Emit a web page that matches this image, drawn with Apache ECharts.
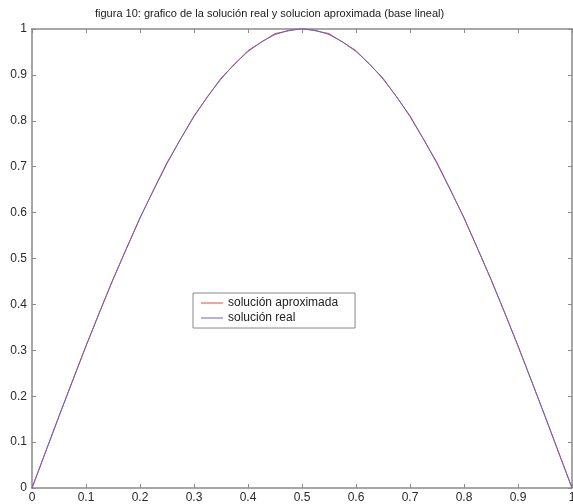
<!DOCTYPE html>
<html>
<head>
<meta charset="utf-8">
<script src="https://cdn.jsdelivr.net/npm/echarts@6/dist/echarts.min.js"></script>
<style>
html,body{margin:0;padding:0;background:#fff;}
#chart{width:573px;height:504px;}
</style>
</head>
<body>
<div id="chart"></div>
<script>
var titleText = 'figura 10: grafico de la solución real y solucion aproximada (base lineal)';
var seriesNames = ['solución aproximada', 'solución real'];

// approximated solution (linear basis), nodes every 0.05
var xAprox = [0, 0.05, 0.1, 0.15, 0.2, 0.25, 0.3, 0.35, 0.4, 0.45, 0.5, 0.55, 0.6, 0.65, 0.7, 0.75, 0.8, 0.85, 0.9, 0.95, 1];
var yAprox = [0, 0.157, 0.310, 0.455, 0.589, 0.709, 0.811, 0.893, 0.953, 0.990, 1.002, 0.990, 0.953, 0.893, 0.811, 0.709, 0.589, 0.455, 0.310, 0.157, 0];

// real solution, read every 0.025
var xReal = [0, 0.025, 0.05, 0.075, 0.1, 0.125, 0.15, 0.175, 0.2, 0.225, 0.25, 0.275, 0.3, 0.325, 0.35, 0.375, 0.4, 0.425, 0.45, 0.475, 0.5, 0.525, 0.55, 0.575, 0.6, 0.625, 0.65, 0.675, 0.7, 0.725, 0.75, 0.775, 0.8, 0.825, 0.85, 0.875, 0.9, 0.925, 0.95, 0.975, 1];
var yReal = [0, 0.078, 0.156, 0.233, 0.309, 0.383, 0.454, 0.522, 0.588, 0.649, 0.707, 0.760, 0.809, 0.853, 0.891, 0.924, 0.951, 0.972, 0.988, 0.997, 1.0, 0.997, 0.988, 0.972, 0.951, 0.924, 0.891, 0.853, 0.809, 0.760, 0.707, 0.649, 0.588, 0.522, 0.454, 0.383, 0.309, 0.233, 0.156, 0.078, 0];

function pairs(xs, ys){ return xs.map(function(x,i){ return [x, ys[i]]; }); }

var axisColor = '#8a8a8a';
var labelStyle = {color:'#2a2a2a', fontSize:12, fontFamily:'Arial, Liberation Sans, sans-serif'};

var chart = echarts.init(document.getElementById('chart'), null, {renderer:'canvas'});
chart.setOption({
  animation:false,
  backgroundColor:'#fff',
  title:{
    text:titleText, left:95, top:8, padding:0,
    textStyle:{fontSize:11, fontWeight:'normal', color:'#1a1a1a', fontFamily:'Arial, Liberation Sans, sans-serif'}
  },
  grid:{left:32, right:1, top:29, bottom:16, containLabel:false, outerBoundsMode:'none'},
  legend:{
    data:seriesNames, orient:'vertical', left:193, top:293,
    itemWidth:22, itemHeight:1, icon:'rect', itemGap:3,
    borderColor:'#888', borderWidth:1, padding:[4,17,4,8], backgroundColor:'#fff',
    textStyle:{fontSize:12, color:'#222', fontFamily:'Arial, Liberation Sans, sans-serif'}
  },
  xAxis:[
    {type:'value', min:0, max:1, interval:0.1, position:'bottom',
     axisLine:{show:true, lineStyle:{color:axisColor, width:1.5}},
     axisTick:{show:true, inside:true, length:4, lineStyle:{color:axisColor}},
     axisLabel:Object.assign({margin:4, showMaxLabel:true}, labelStyle),
     splitLine:{show:false}},
    {type:'value', min:0, max:1, interval:0.1, position:'top',
     axisLine:{show:true, onZero:false, lineStyle:{color:axisColor, width:1.5}},
     axisTick:{show:true, inside:true, length:4, lineStyle:{color:axisColor}},
     axisLabel:{show:false}, splitLine:{show:false}}
  ],
  yAxis:[
    {type:'value', min:0, max:1, interval:0.1, position:'left',
     axisLine:{show:true, lineStyle:{color:axisColor, width:1.5}},
     axisTick:{show:true, inside:true, length:4, lineStyle:{color:axisColor}},
     axisLabel:Object.assign({margin:5}, labelStyle),
     splitLine:{show:false}},
    {type:'value', min:0, max:1, interval:0.1, position:'right',
     axisLine:{show:true, onZero:false, lineStyle:{color:axisColor, width:1.5}},
     axisTick:{show:true, inside:true, length:4, lineStyle:{color:axisColor}},
     axisLabel:{show:false}, splitLine:{show:false}}
  ],
  series:[
    {name:seriesNames[0], type:'line', data:pairs(xAprox, yAprox), showSymbol:false,
     lineStyle:{color:'#e04848', width:1}, itemStyle:{color:'#e04848'}},
    {name:seriesNames[1], type:'line', data:pairs(xReal, yReal), showSymbol:false,
     lineStyle:{color:'#6a62c4', width:1}, itemStyle:{color:'#6a62c4'}}
  ]
});
</script>
</body>
</html>
